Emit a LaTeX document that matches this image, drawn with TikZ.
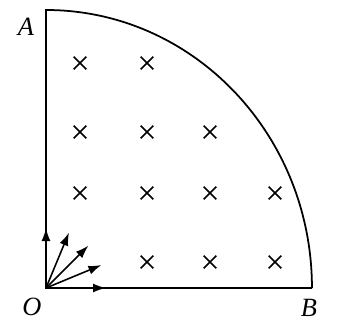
\documentclass[tikz,border=0pt]{standalone}
\usepackage{fontspec}
\setmainfont{Liberation Serif}
\usetikzlibrary{arrows.meta,shapes.misc}

\begin{document}
\begin{tikzpicture}[
    x=0.02cm, y=0.02cm,
    edge/.style={draw, line width=1pt},
    field/.style={cross out, draw, line width=0.9pt, minimum size=0.22cm, inner sep=0pt},
    vel/.style={draw, line width=0.9pt, -{Latex[length=2.6mm, width=1.8mm]}},
    lbl/.style={font=\fontsize{15}{17}\selectfont\itshape}
]
    \useasboundingbox (-46,-37) rectangle (298,288);

    % Region
    \coordinate (O) at (0,0);
    \coordinate (A) at (0,278);
    \coordinate (B) at (266,0);
    \path [edge] (B) -- (O) -- (A) arc [start angle=90, end angle=0, x radius=5.32cm, y radius=5.56cm];

    % Labels
    \node [lbl] (lA) at (-20,261) {A};
    \node [lbl] (lO) at (-14,-19) {O};
    \node [lbl] (lB) at (263,-20) {B};

    % Field into the page
    \foreach \cx/\cy [count=\i] in {34/225, 101/225,
        34/156, 101/156, 164/156,
        34/95, 101/95, 164/95, 229/95,
        101/26, 164/26, 229/26}
        \node [field] (f\i) at (\cx,\cy) {};

    % Velocities from O
    \foreach \ang [count=\i] in {0,22.5,45,67.5,90} {
        \coordinate (v\i) at (\ang:60);
        \path [vel] (O) -- (v\i);
    }

\end{tikzpicture}
\end{document}
